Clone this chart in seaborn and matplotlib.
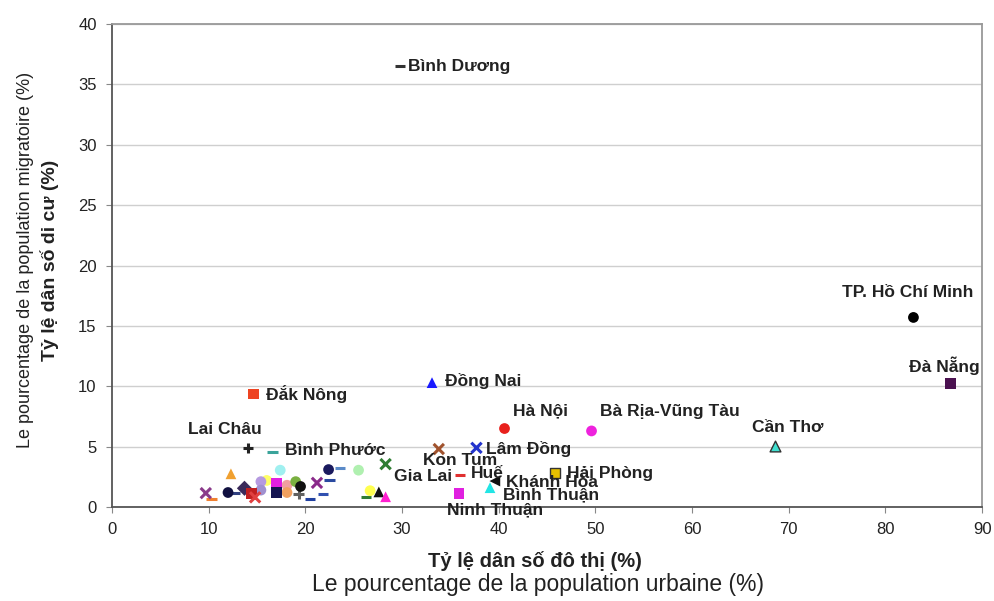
import seaborn as sns
import matplotlib.pyplot as plt
import pandas as pd

# named provinces
names = ["Bình Dương", "TP. Hồ Chí Minh", "Đà Nẵng", "Cần Thơ", "Bà Rịa-Vũng Tàu",
         "Hà Nội", "Đồng Nai", "Đắk Nông", "Lai Châu", "Bình Phước", "Lâm Đồng",
         "Kon Tum", "Gia Lai", "Huế", "Khánh Hòa", "Hải Phòng", "Bình Thuận", "Ninh Thuận"]
urban = [29.8, 82.9, 86.7, 68.6, 49.6, 40.6, 33.1, 14.6, 14.1, 16.6, 37.7,
         33.8, 28.3, 36.0, 39.6, 45.8, 39.1, 35.9]
migrant = [36.5, 15.7, 10.2, 5.05, 6.3, 6.5, 10.3, 9.35, 4.9, 4.55, 4.9,
           4.8, 3.55, 2.65, 2.15, 2.8, 1.6, 1.1]
colors = ["#333333", "#000000", "#4b1150", "#40e0d0", "#ee22dd", "#e8201c", "#1a1aff",
          "#ee4422", "#222222", "#3aa39a", "#2233cc", "#a0522d", "#2e7d32", "#e03030",
          "#111111", "#e6c000", "#22e5e5", "#e020e0"]
markers = ["_", "o", "s", "^", "o", "o", "^", "s", "+", "_", "x",
           "x", "x", "_", "<", "s", "^", "s"]

# other provinces, unlabelled
other_urban = [12.3, 17.4, 22.4, 23.6, 25.5, 16.0, 15.4, 17.0, 18.1, 19.0, 19.5, 21.2, 22.5,
               9.7, 10.3, 12.0, 12.7, 13.7, 14.4, 14.8, 15.4, 17.0, 18.1, 19.3, 20.5, 21.8,
               26.7, 27.6, 26.3, 28.3]
other_migrant = [2.75, 3.05, 3.1, 3.2, 3.05, 2.2, 2.1, 1.95, 1.8, 2.1, 1.7, 2.0, 2.2,
                 1.15, 0.7, 1.2, 1.2, 1.55, 1.1, 0.8, 1.4, 1.2, 1.2, 1.1, 0.7, 1.1,
                 1.35, 1.25, 0.8, 0.85]
other_colors = ["#f0a030", "#a0f0f0", "#1a1a5e", "#5a8ac8", "#b0f0b0", "#ffff66", "#b59ae0",
                "#e020e0", "#f0a0a0", "#7ab040", "#111111", "#8a2a8a", "#2a4aa0",
                "#8a3a8a", "#f08030", "#101040", "#304080", "#3a2a5a", "#c02020", "#e04040",
                "#a090d0", "#141450", "#f0a060", "#606060", "#2040a0", "#3050b0",
                "#ffff50", "#111111", "#2e7d32", "#ff20d0"]
other_markers = ["^", "o", "o", "_", "o", "o", "o", "s", "o", "o", "o", "x", "_",
                 "x", "_", "o", "_", "D", "s", "x", "o", "s", "o", "+", "_", "_",
                 "o", "^", "_", "^"]

# label offsets in points (dx, dy, ha)
label_pos = {
    "Bình Dương": (6, 0, "left"), "TP. Hồ Chí Minh": (-4, 18, "center"),
    "Đà Nẵng": (-4, 13, "center"), "Cần Thơ": (-17, 13, "left"),
    "Bà Rịa-Vũng Tàu": (6, 14, "left"), "Hà Nội": (6, 13, "left"),
    "Đồng Nai": (9, 1, "left"), "Đắk Nông": (9, 0, "left"),
    "Lai Châu": (-17, 13, "center"), "Bình Phước": (9, 1, "left"),
    "Lâm Đồng": (7, -1, "left"), "Kon Tum": (-11, -8, "left"),
    "Gia Lai": (6, -9, "left"), "Huế": (8, 1, "left"), "Khánh Hòa": (8, -1, "left"),
    "Hải Phòng": (9, 0, "left"), "Bình Thuận": (9, -5, "left"), "Ninh Thuận": (-9, -12, "left"),
}

df = pd.DataFrame({
    "id": list(range(len(names) + len(other_urban))),
    "urban": urban + other_urban,
    "migrant": migrant + other_migrant,
    "color": colors + other_colors,
    "marker": markers + other_markers,
})
df["edge"] = "none"
df.loc[df["id"].isin([3, 15]), "edge"] = "#333333"

plt.rcParams['font.family'] = ['Liberation Sans', 'DejaVu Sans']
fig = plt.figure(figsize=(9.94, 6.01), dpi=100)
ax = fig.add_axes([0.1127, 0.1564, 0.8753, 0.8036])

palette = dict(zip(df["id"], df["color"]))
line_art = {"+", "x", "_"}
for (m, e), sub in df.groupby(["marker", "edge"]):
    if m in line_art:
        sns.scatterplot(data=sub, x="urban", y="migrant", hue="id", palette=palette,
                        marker=m, s=55, linewidth=2.2, legend=False, ax=ax, zorder=3)
    else:
        sns.scatterplot(data=sub, x="urban", y="migrant", hue="id", palette=palette,
                        marker=m, s=60, edgecolor=e, linewidth=1.0, legend=False, ax=ax, zorder=3)

for i, name in enumerate(names):
    dx, dy, ha = label_pos[name]
    ax.annotate(name, (urban[i], migrant[i]), xytext=(dx, dy), textcoords="offset points",
                ha=ha, va="center", fontsize=12.5, fontweight="bold", color="#222222", zorder=4)

ax.set_xlim(0, 90)
ax.set_ylim(0, 40)
ax.set_xticks(range(0, 91, 10))
ax.set_yticks(range(0, 41, 5))
ax.yaxis.grid(True, color="#cfcfcf", linewidth=1.0)
ax.xaxis.grid(False)
ax.set_axisbelow(True)
for side, sp in ax.spines.items():
    sp.set_color("#555555" if side in ("left", "bottom") else "#999999")
    sp.set_linewidth(1.3)
ax.tick_params(axis="both", length=4, color="#888888", labelsize=12, labelcolor="#222222", pad=7)

ax.set_xlabel("")
ax.set_ylabel("")
fig.text(0.538, 0.067, "Tỷ lệ dân số đô thị (%)", ha="center", va="center",
         fontsize=14.5, fontweight="bold", color="#222222")
fig.text(0.541, 0.027, "Le pourcentage de la population urbaine (%)", ha="center", va="center",
         fontsize=16.5, color="#222222")
fig.text(0.026, 0.567, "Le pourcentage de la population migratoire (%)", ha="center", va="center",
         rotation=90, fontsize=13, color="#222222")
fig.text(0.050, 0.567, "Tỷ lệ dân số di cư (%)", ha="center", va="center",
         rotation=90, fontsize=14, fontweight="bold", color="#222222")

plt.savefig("out.png", dpi=100)
plt.close()
